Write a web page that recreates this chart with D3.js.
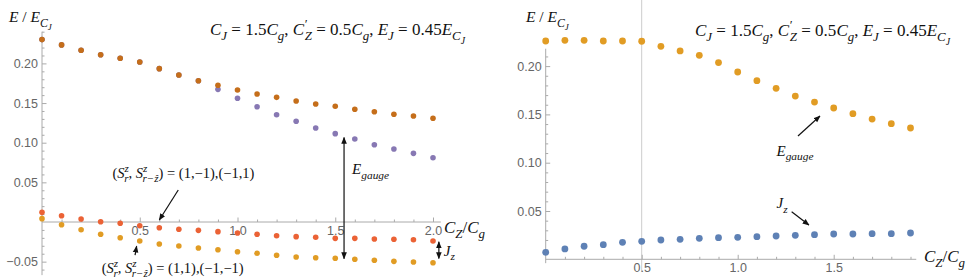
<!DOCTYPE html>
<html>
<head>
<meta charset="utf-8">
<script src="https://d3js.org/d3.v7.min.js"></script>
<style>
  body { margin: 0; background: #fff; }
  .math { font-family: "Liberation Serif", "DejaVu Serif", serif; white-space: pre; fill: #111; }
  .tick text { font-family: "Liberation Sans", Arial, sans-serif; font-size: 12.5px; fill: #666; }
  .tick line { stroke: #aaa; }
</style>
</head>
<body>
<div id="chart"></div>
<script>
// ---- data ----
// left panel: C_Z/C_g from 0 to 2.0 step 0.1
var czLeft = [0, 0.1, 0.2, 0.3, 0.4, 0.5, 0.6, 0.7, 0.8, 0.9, 1.0, 1.1, 1.2, 1.3, 1.4, 1.5, 1.6, 1.7, 1.8, 1.9, 2.0];
var upperBrown = [0.2300, 0.2233, 0.2166, 0.2110, 0.2065, 0.2018, 0.1934, 0.1854, 0.1782, 0.1724, 0.1665,
                  0.1614, 0.1572, 0.1526, 0.1488, 0.1459, 0.1421, 0.1391, 0.1358, 0.1337, 0.1308];
var upperPurple = [0.2300, 0.2233, 0.2166, 0.2110, 0.2065, 0.2018, 0.1934, 0.1854, 0.1782, 0.1673, 0.1560,
                   0.1454, 0.1353, 0.1270, 0.1185, 0.1114, 0.1047, 0.0975, 0.0921, 0.0866, 0.0811];
var lowerRed = [0.0122, 0.0079, 0.0038, 0.0004, -0.0016, -0.0047, -0.0072, -0.0092, -0.0105, -0.0122, -0.0139,
                -0.0155, -0.0173, -0.0185, -0.0193, -0.0206, -0.0206, -0.0214, -0.0218, -0.0223, -0.0240];
var lowerOrange = [0.0042, -0.0034, -0.0097, -0.0155, -0.0198, -0.0240, -0.0277, -0.0303, -0.0328, -0.0349, -0.0375,
                   -0.0395, -0.0420, -0.0441, -0.0450, -0.0458, -0.0470, -0.0483, -0.0496, -0.0504, -0.0513];

// right panel: C_Z/C_g from 0 to 1.9 step 0.1
var czRight = [0, 0.1, 0.2, 0.3, 0.4, 0.5, 0.6, 0.7, 0.8, 0.9, 1.0, 1.1, 1.2, 1.3, 1.4, 1.5, 1.6, 1.7, 1.8, 1.9];
var gaugeRight = [0.2260, 0.2267, 0.2267, 0.2260, 0.2260, 0.2257, 0.2205, 0.2157, 0.2112, 0.2036,
                  0.1939, 0.1849, 0.1770, 0.1690, 0.1628, 0.1566, 0.1507, 0.1452, 0.1404, 0.1359];
var jzRight = [0.0072, 0.0107, 0.0135, 0.0151, 0.0176, 0.0186, 0.0200, 0.0207, 0.0217, 0.0224,
               0.0228, 0.0234, 0.0241, 0.0248, 0.0255, 0.0262, 0.0262, 0.0265, 0.0265, 0.0272];

var xTicksLeft = [0.5, 1.0, 1.5, 2.0];
var yTicksLeft = [-0.05, 0.05, 0.10, 0.15, 0.20];
var xTicksRight = [0.5, 1.0, 1.5];
var yTicksRight = [0.05, 0.10, 0.15, 0.20];

// mathematica default colours
var cBrown = "#c56e1a", cPurple = "#8778b3", cRed = "#eb6235", cOrange = "#e19c24", cBlue = "#5e81b5";

var svg = d3.select("#chart").append("svg")
  .attr("width", 969).attr("height", 280);

// arrow heads
var defs = svg.append("defs");
defs.append("marker")
  .attr("id", "arr").attr("viewBox", "0 0 10 10")
  .attr("refX", 9).attr("refY", 5)
  .attr("markerWidth", 7).attr("markerHeight", 7)
  .attr("markerUnits", "userSpaceOnUse")
  .attr("orient", "auto-start-reverse")
  .append("path").attr("d", "M0,1 L10,5 L0,9 z").attr("fill", "#111");

// little helper for math-ish text built from tspans
function it(t) { return {t: t, i: 1}; }
function up(t) { return {t: t}; }
function sb(t, dx) { return {t: t, i: 1, d: 0.3, s: 0.76, dx: dx}; }
function sp(t, dx) { return {t: t, i: 1, d: -0.4, s: 0.76, dx: dx}; }
function ssb(t) { return {t: t, i: 1, d: 0.52, s: 0.58}; }

function mathText(x, y, fs, parts) {
  var t = svg.append("text").attr("class", "math")
    .attr("x", x).attr("y", y).style("font-size", fs + "px");
  var cur = 0;
  parts.forEach(function(p) {
    var shift = (p.d || 0) * fs;
    var ts = t.append("tspan").attr("dy", shift - cur).text(p.t)
      .style("font-style", p.i ? "italic" : "normal");
    if (p.dx) ts.attr("dx", p.dx * fs);
    if (p.s) ts.style("font-size", (p.s * fs) + "px");
    cur = shift;
  });
  return t;
}

function arrow(x1, y1, x2, y2, both) {
  var l = svg.append("line")
    .attr("x1", x1).attr("y1", y1).attr("x2", x2).attr("y2", y2)
    .attr("stroke", "#111").attr("stroke-width", 1.2)
    .attr("marker-end", "url(#arr)");
  if (both) l.attr("marker-start", "url(#arr)");
}

function range(a, b, step) {
  var out = [];
  for (var v = a; v <= b + 1e-9; v += step) out.push(+v.toFixed(3));
  return out;
}

// draws axes like mathematica: ticks on the inside, labels outside
function drawAxes(x, y, xMajor, yMajor, xMinor, yMinor, xEnd, yTop, yBot) {
  var g = svg.append("g");
  var minorX = xMinor.filter(function(v) { return xMajor.indexOf(v) < 0; });
  var minorY = yMinor.filter(function(v) { return yMajor.map(function(m){return m.toFixed(2);}).indexOf(v.toFixed(2)) < 0 && Math.abs(v) > 1e-9; });

  // axis lines
  g.append("line").attr("x1", x(0)).attr("x2", x(xEnd)).attr("y1", y(0)).attr("y2", y(0))
    .attr("stroke", "#aaa");
  g.append("line").attr("x1", x(0)).attr("x2", x(0)).attr("y1", y(yTop)).attr("y2", y(yBot))
    .attr("stroke", "#aaa");

  g.append("g").attr("transform", "translate(0," + y(0) + ")")
    .call(d3.axisBottom(x).tickValues(xMajor).tickSize(-4.5).tickPadding(4).tickFormat(d3.format(".1f")))
    .call(function(s) { s.select(".domain").remove(); });
  g.append("g").attr("transform", "translate(0," + y(0) + ")")
    .call(d3.axisBottom(x).tickValues(minorX).tickSize(-2.5).tickFormat(""))
    .call(function(s) { s.select(".domain").remove(); });

  g.append("g").attr("transform", "translate(" + x(0) + ",0)")
    .call(d3.axisLeft(y).tickValues(yMajor).tickSize(-4.5).tickPadding(4).tickFormat(d3.format(".2f")))
    .call(function(s) { s.select(".domain").remove(); });
  g.append("g").attr("transform", "translate(" + x(0) + ",0)")
    .call(d3.axisLeft(y).tickValues(minorY).tickSize(-2.5).tickFormat(""))
    .call(function(s) { s.select(".domain").remove(); });
}

function dots(x, y, xs, ys, color, r) {
  svg.append("g").selectAll("circle")
    .data(ys)
    .enter().append("circle")
    .attr("cx", function(d, i) { return x(xs[i]); })
    .attr("cy", function(d) { return y(d); })
    .attr("r", r)
    .attr("fill", color);
}

var titleParts = [
  it("C"), sb("J"), up(" = 1.5"), it("C"), sb("g"), up(", "),
  it("C"), sp("\u2032"), sb("Z", -0.12), up(" = 0.5"), it("C"), sb("g"), up(", "),
  it("E"), sb("J"), up(" = 0.45"), it("E"), sb("C"), ssb("J")
];
var yLabelParts = [it("E"), up(" / "), it("E"), sb("C"), ssb("J")];
var xLabelParts = [it("C"), sb("Z"), up("/"), it("C"), sb("g")];

// ================= left panel =================
var xL = d3.scaleLinear().domain([0, 2]).range([42, 433]);
var yL = d3.scaleLinear().domain([0, 0.2]).range([222, 63.4]);

drawAxes(xL, yL, xTicksLeft, yTicksLeft, range(0.1, 2.0, 0.1), range(-0.06, 0.24, 0.01), 2.04, 0.24, -0.067);

dots(xL, yL, czLeft, upperPurple, cPurple, 2.8);
dots(xL, yL, czLeft, upperBrown, cBrown, 2.8);
dots(xL, yL, czLeft, lowerRed, cRed, 2.8);
dots(xL, yL, czLeft, lowerOrange, cOrange, 2.8);

mathText(9, 22, 15.5, yLabelParts);
mathText(210, 35, 17, titleParts);
mathText(444, 233, 17, xLabelParts);

// state labels
var sr = [it("S"), sp("z"), sb("r", -0.32)];
var srz = [it("S"), sp("z"), sb("r\u2212z\u0302", -0.32)];
mathText(xL(0.36), yL(0.0555), 14.5, [up("(")].concat(sr, [up(", ")], srz, [up(") = (1,\u22121),(\u22121,1)")]));
mathText(xL(0.305), yL(-0.0645), 14.5, [up("(")].concat(sr, [up(", ")], srz, [up(") = (1,1),(\u22121,\u22121)")]));
arrow(xL(0.697), yL(0.0404), xL(0.60), yL(0.0025));
arrow(xL(0.476), yL(-0.0418), xL(0.484), yL(-0.0305));

// E_gauge and J_z gaps
arrow(xL(1.545), yL(-0.0462), xL(1.545), yL(0.1065), true);
mathText(xL(1.586), yL(0.0605), 15, [it("E"), sb("gauge")]);
arrow(xL(2.03), yL(-0.0250), xL(2.03), yL(-0.0460), true);
mathText(xL(2.055), yL(-0.0425), 15, [it("J"), sb("z")]);

// ================= right panel =================
var xR = d3.scaleLinear().domain([0, 1]).range([545.7, 737.7]);
var yR = d3.scaleLinear().domain([0, 0.2]).range([259.3, 66.1]);

// gridline at 0.5
svg.append("line").attr("x1", xR(0.5)).attr("x2", xR(0.5)).attr("y1", 0).attr("y2", 272)
  .attr("stroke", "#ccc").attr("stroke-width", 1);

drawAxes(xR, yR, xTicksRight, yTicksRight, range(0.1, 1.9, 0.1), range(0.01, 0.21, 0.01), 1.93, 0.218, -0.004);

dots(xR, yR, czRight, gaugeRight, cOrange, 3.4);
dots(xR, yR, czRight, jzRight, cBlue, 3.4);

mathText(526, 22, 15.5, yLabelParts);
mathText(695, 36, 17, titleParts);
mathText(924, 262, 17, xLabelParts);

mathText(xR(1.202), yR(0.107), 15, [it("E"), sb("gauge")]);
arrow(xR(1.314), yR(0.1276), xR(1.4286), yR(0.1483));
mathText(xR(1.202), yR(0.053), 15, [it("J"), sb("z")]);
arrow(xR(1.281), yR(0.0493), xR(1.371), yR(0.0355));
</script>
</body>
</html>
